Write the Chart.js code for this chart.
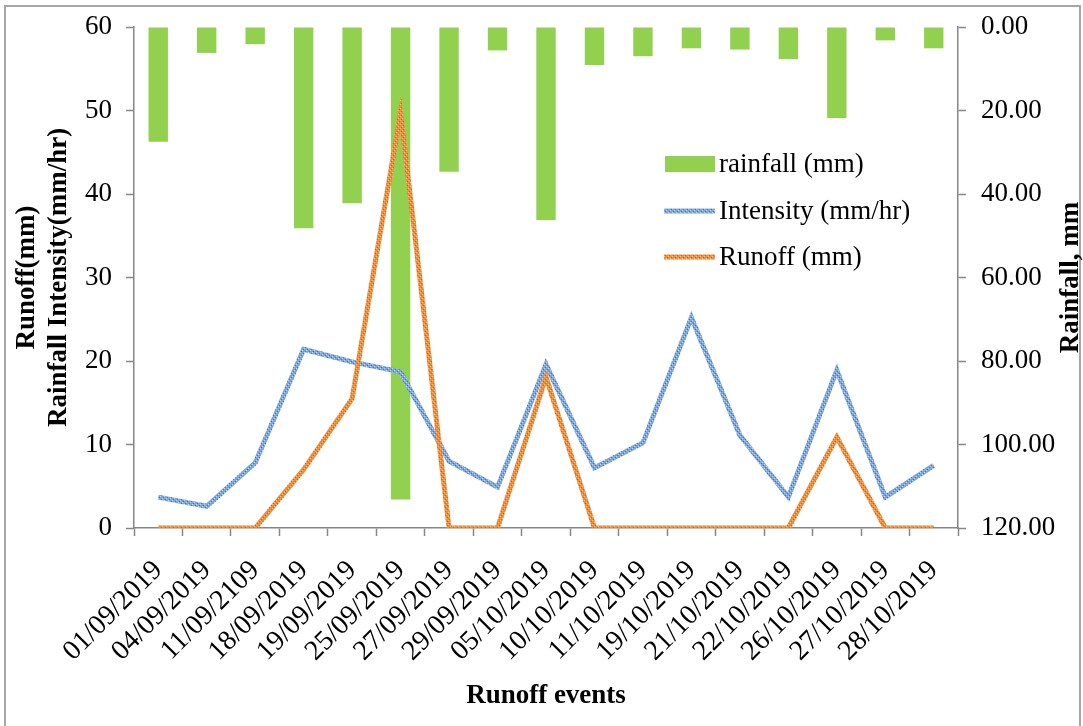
<!DOCTYPE html>
<html><head><meta charset="utf-8">
<script src="https://cdn.jsdelivr.net/npm/chart.js@4"></script>
<style>
html,body{margin:0;padding:0;background:#fff;}
#wrap{position:relative;width:1083px;height:726px;overflow:hidden;background:#fff;}
#frame{position:absolute;left:4px;top:5px;width:1077px;height:760px;border:2px solid #a6a6a6;box-sizing:border-box;}
canvas{position:absolute;left:0;top:0;}
</style></head><body>
<div id="wrap"><div id="frame"></div><canvas id="c" width="1083" height="726"></canvas></div>
<script>
const categories = ['01/09/2019','04/09/2019','11/09/2109','18/09/2019','19/09/2019','25/09/2019','27/09/2019','29/09/2019','05/10/2019','10/10/2019','11/10/2019','19/10/2019','21/10/2019','22/10/2019','26/10/2019','27/10/2019','28/10/2019'];
const rainfall = [27.5, 6.2, 4.1, 48.2, 42.2, 113.2, 34.7, 5.6, 46.2, 9.1, 7.0, 5.1, 5.4, 7.7, 21.8, 3.2, 5.1];
const intensity = [3.7, 2.6, 7.8, 21.4, 19.9, 18.7, 8.0, 4.9, 19.6, 7.2, 10.2, 25.2, 11.1, 3.7, 18.9, 3.7, 7.5];
const runoff = [0, 0, 0, 7.0, 15.5, 49.7, 0, 0, 18.1, 0, 0, 0, 0, 0, 10.9, 0, 0];
const leftTicks = {min: 0, max: 60, step: 10};
const rightTicks = {min: 0, max: 120, step: 20};
const seriesNames = ['rainfall (mm)', 'Intensity (mm/hr)', 'Runoff (mm)'];
const axisTitles = {x: 'Runoff events', left: ['Runoff(mm)', 'Rainfall Intensity(mm/hr)'], right: 'Rainfall, mm'};

const SERIF = "'Liberation Serif', 'Times New Roman', serif";
const AX = '#868686';

function makePattern(base, light, dark) {
  const c = document.createElement('canvas');
  c.width = 4; c.height = 4;
  const x = c.getContext('2d');
  x.fillStyle = base; x.fillRect(0, 0, 4, 4);
  x.fillStyle = light; x.fillRect(0, 0, 1, 1); x.fillRect(2, 2, 1, 1);
  x.fillStyle = dark; x.fillRect(1, 3, 1, 1); x.fillRect(3, 1, 1, 1);
  return x.createPattern(c, 'repeat');
}
const bluePat = makePattern('#7fa6da', '#c9daf0', '#3f70b8');
const orangePat = makePattern('#ef8c3e', '#f9c49a', '#d9600a');

const overlay = {
  id: 'overlay',
  afterDraw(chart) {
    const ctx = chart.ctx;
    const ds = chart.data.datasets;
    ctx.save();
    ctx.font = '27px ' + SERIF;
    ctx.fillStyle = '#000';
    ctx.textBaseline = 'middle';
    ctx.textAlign = 'left';
    const lx = 665, rows = [164, 211, 257];
    ds.forEach((d, i) => {
      const y = rows[i];
      if (d.type === 'bar') {
        ctx.fillStyle = d.backgroundColor;
        ctx.fillRect(lx, y - 8, 50, 16);
      } else {
        ctx.strokeStyle = d.borderColor;
        ctx.lineWidth = 5;
        ctx.beginPath(); ctx.moveTo(lx - 1, y); ctx.lineTo(lx + 50, y); ctx.stroke();
      }
      ctx.fillStyle = '#000';
      ctx.fillText(d.label, lx + 54, y + 1);
    });
    const ca = chart.chartArea;
    ctx.font = 'bold 27px ' + SERIF;
    ctx.translate(1071, (ca.top + ca.bottom) / 2);
    ctx.rotate(-Math.PI / 2);
    ctx.textAlign = 'center';
    ctx.fillText(axisTitles.right, 0, 0);
    ctx.restore();
  }
};

new Chart(document.getElementById('c'), {
  data: {
    labels: categories,
    datasets: [
      {type: 'bar', label: seriesNames[0], data: rainfall, yAxisID: 'y2', backgroundColor: '#92d050',
       barPercentage: 0.4, categoryPercentage: 1.0, order: 3},
      {type: 'line', label: seriesNames[1], data: intensity, yAxisID: 'y', borderColor: bluePat,
       borderWidth: 5, pointRadius: 0, tension: 0, order: 2},
      {type: 'line', label: seriesNames[2], data: runoff, yAxisID: 'y', borderColor: orangePat,
       borderWidth: 5, pointRadius: 0, tension: 0, order: 1}
    ]
  },
  options: {
    responsive: false,
    animation: false,
    devicePixelRatio: 1,
    layout: {padding: {top: 27, left: 0, right: 0, bottom: 0}},
    plugins: {legend: {display: false}, tooltip: {enabled: false}},
    scales: {
      x: {
        type: 'category', offset: true,
        grid: {display: true, offset: true, drawOnChartArea: false, tickLength: 8, color: AX, tickWidth: 1.5},
        border: {display: true, color: AX, width: 1.5},
        ticks: {autoSkip: false, minRotation: 45, maxRotation: 45, color: '#000', padding: 18,
                font: {family: SERIF, size: 28}},
        title: {display: true, text: axisTitles.x, color: '#000', font: {family: SERIF, size: 27, weight: 'bold'},
                padding: {top: 0, bottom: 14}},
        afterFit(s) { s.height = 198; }
      },
      y: {
        position: 'left', min: leftTicks.min, max: leftTicks.max,
        grid: {display: true, drawOnChartArea: false, tickLength: 8, color: AX, tickWidth: 1.5},
        border: {display: true, color: AX, width: 1.5},
        ticks: {stepSize: leftTicks.step, color: '#000', padding: 14, font: {family: SERIF, size: 27}},
        title: {display: true, text: axisTitles.left, color: '#000', font: {family: SERIF, size: 27, weight: 'bold', lineHeight: 1.15},
                padding: {top: 12, bottom: 0}},
        afterFit(s) { s.width = 134; s.paddingTop = 0; s.paddingBottom = 0; }
      },
      y2: {
        position: 'right', reverse: true, min: rightTicks.min, max: rightTicks.max,
        grid: {display: true, drawOnChartArea: false, tickLength: 8, color: AX, tickWidth: 1.5},
        border: {display: true, color: AX, width: 1.5},
        ticks: {stepSize: rightTicks.step, color: '#000', padding: 15, font: {family: SERIF, size: 27},
                callback: v => Number(v).toFixed(2)},
        title: {display: false},
        afterFit(s) { s.width = 125; s.paddingTop = 0; s.paddingBottom = 0; }
      }
    }
  },
  plugins: [overlay]
});
</script>
</body></html>
